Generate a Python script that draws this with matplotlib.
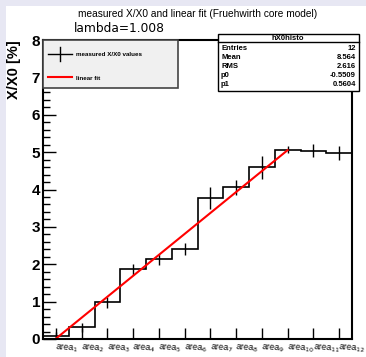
import matplotlib
matplotlib.use("Agg")
import matplotlib.pyplot as plt
from matplotlib.patches import Rectangle
from matplotlib.lines import Line2D
import numpy as np

# data
areas = ["area$_{%d}$" % i for i in range(1, 13)]
x0_values = [0.09, 0.31, 0.98, 1.86, 2.13, 2.40, 3.77, 4.06, 4.59, 5.07, 5.04, 4.98]
x0_errors = [0.10, 0.13, 0.15, 0.16, 0.15, 0.16, 0.29, 0.20, 0.30, 0.09, 0.18, 0.18]
p0 = -0.5509
p1 = 0.5604
fit_range = [1, 10]
stats_rows = [("Entries", "12"), ("Mean", "8.564"), ("RMS", "2.616"),
              ("p0", "-0.5509"), ("p1", "0.5604")]

W, H = 366, 357
fig = plt.figure(figsize=(W / 100, H / 100), dpi=100)
fig.patch.set_facecolor("#e7e7f3")

def fx(x):
    return x / W

def fy(y):
    return 1 - y / H

# white canvas inside the lavender border
fig.patches.append(Rectangle((fx(6), 0), 1, fy(6), transform=fig.transFigure,
                             facecolor="white", edgecolor="none", zorder=-5))

ax = fig.add_axes([fx(43), fy(339), fx(352) - fx(43), fy(40) - fy(339)])
ax.set_facecolor("white")

n = len(x0_values)
centers = np.arange(1, n + 1)
edges = np.arange(0.5, n + 1)
ax.stairs(x0_values, edges, color="black", linewidth=1.2, baseline=None)
ax.errorbar(centers, x0_values, yerr=x0_errors, fmt="none", ecolor="black",
            elinewidth=1.0, capsize=0)
xf = np.array(fit_range, dtype=float)
ax.plot(xf, p0 + p1 * xf, color="red", linewidth=1.5)

ax.set_xlim(0.5, n + 0.5)
ax.set_ylim(0, 8)
ax.set_xticks(centers)
ax.set_xticklabels(areas, ha="left", fontsize=6.4, family="Liberation Sans",
                   rotation=-4, rotation_mode="anchor")
ax.tick_params(axis="x", direction="in", length=8, width=1.0, pad=2)
ax.set_yticks(range(0, 9))
ax.set_yticks(np.arange(0, 8.01, 0.2), minor=True)
ax.tick_params(axis="y", which="major", direction="in", length=9, width=1.0, pad=2)
ax.tick_params(axis="y", which="minor", direction="in", length=5, width=1.0)
for lbl in ax.get_yticklabels():
    lbl.set_fontsize(11)
    lbl.set_fontweight("bold")
    lbl.set_family("Liberation Sans")
for s in ax.spines.values():
    s.set_linewidth(1.5)
ax.set_ylabel("X/X0 [%]", loc="top", fontsize=10.5, fontweight="bold",
              family="Liberation Sans", labelpad=8)

fig.text(fx(198), fy(14), "measured X/X0 and linear fit (Fruehwirth core model)",
         ha="center", va="center", fontsize=7.3, family="Liberation Sans")
fig.text(fx(74), fy(28), "lambda=1.008", ha="left", va="center", fontsize=8.8,
         family="DejaVu Sans")

# legend box
fig.patches.append(Rectangle((fx(43), fy(88)), fx(178) - fx(43), fy(40) - fy(88),
                             transform=fig.transFigure, facecolor="#f0f0f0",
                             edgecolor="#444444", linewidth=1.2, zorder=5))
fig.lines.append(Line2D([fx(48), fx(72)], [fy(54), fy(54)], transform=fig.transFigure,
                        color="black", linewidth=1.0, zorder=6))
fig.lines.append(Line2D([fx(60), fx(60)], [fy(47), fy(61)], transform=fig.transFigure,
                        color="black", linewidth=1.0, zorder=6))
fig.lines.append(Line2D([fx(48), fx(72)], [fy(77), fy(77)], transform=fig.transFigure,
                        color="red", linewidth=1.5, zorder=6))
fig.text(fx(76), fy(55), "measured X/X0 values", ha="left", va="center", fontsize=4.5,
         fontweight="bold", family="Liberation Sans", zorder=7)
fig.text(fx(76), fy(78), "linear fit", ha="left", va="center", fontsize=4.5,
         fontweight="bold", family="Liberation Sans", zorder=7)

# stats box
fig.patches.append(Rectangle((fx(218), fy(91)), fx(359) - fx(218), fy(34) - fy(91),
                             transform=fig.transFigure, facecolor="white",
                             edgecolor="black", linewidth=1.0, zorder=5))
fig.lines.append(Line2D([fx(218), fx(359)], [fy(42), fy(42)], transform=fig.transFigure,
                        color="black", linewidth=1.0, zorder=6))
fig.text(fx(288), fy(38), "hX0histo", ha="center", va="center", fontsize=5.5,
         fontweight="bold", family="Liberation Sans", zorder=7)
for i, (k, v) in enumerate(stats_rows):
    y = 49 + i * 8.8
    fig.text(fx(221), fy(y), k, ha="left", va="center", fontsize=5.5,
             fontweight="bold", family="Liberation Sans", zorder=7)
    fig.text(fx(356), fy(y), v, ha="right", va="center", fontsize=5.5,
             fontweight="bold", family="Liberation Sans", zorder=7)

fig.savefig("out.png", dpi=100, facecolor=fig.get_facecolor())
